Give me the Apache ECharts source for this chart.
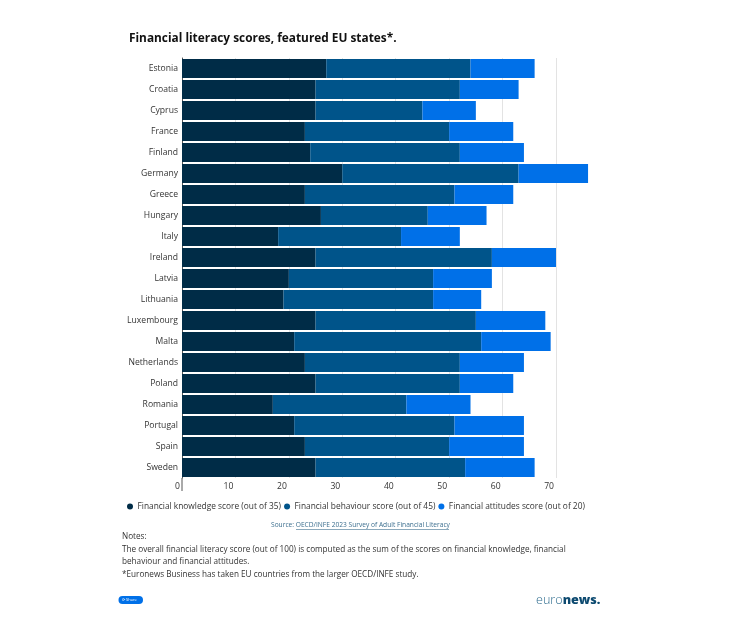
<!DOCTYPE html>
<html><head><meta charset="utf-8">
<style>html,body{margin:0;padding:0;background:#fff}#c{width:750px;height:620px}</style>
<script src="https://cdn.jsdelivr.net/npm/echarts@6/dist/echarts.min.js"></script>
</head><body><div id="c"></div>
<script>
const countries=["Estonia","Croatia","Cyprus","France","Finland","Germany","Greece","Hungary","Italy","Ireland","Latvia","Lithuania","Luxembourg","Malta","Netherlands","Poland","Romania","Portugal","Spain","Sweden"];
const knowledge=[27,25,25,23,24,30,23,26,18,25,20,19,25,21,23,25,17,21,23,25];
const behaviour=[27,27,20,27,28,33,28,20,23,33,27,28,30,35,29,27,25,30,27,28];
const attitudes=[12,11,10,12,12,13,11,11,11,12,11,9,13,13,12,10,12,13,14,13];
const seriesNames=["Financial knowledge score (out of 35)","Financial behaviour score (out of 45)","Financial attitudes score (out of 20)"];
const colors=["#002c47","#00548a","#0070e8"];
const F="'Open Sans'";
const chart=echarts.init(document.getElementById('c'),null,{renderer:'canvas'});
const mk=(i,d)=>({name:seriesNames[i],type:'bar',stack:'a',data:d,barWidth:19,clip:false,itemStyle:{color:colors[i]},animation:false});
const txt=(x,y,s,o={})=>({type:'text',left:x,top:y,style:Object.assign({text:s,font:"8.19px "+F,fill:'#333'},o)});
chart.setOption({
 animation:false,
 title:{text:'Financial literacy scores, featured EU states*.',left:129,top:32.5,padding:0,textStyle:{fontFamily:F,fontSize:11.85,fontWeight:700,color:'#111'}},
 grid:{left:182,top:58,width:374,height:420,containLabel:false},
 xAxis:{type:'value',min:0,max:70,interval:10,
  axisLine:{show:false},axisTick:{show:false},
  splitLine:{show:true,lineStyle:{color:'#e3e3e3',width:1}},
  axisLabel:{align:'right',margin:4,padding:[0,2,0,0],fontFamily:F,fontSize:8.6,color:'#333',showMinLabel:true,showMaxLabel:true}},
 yAxis:{type:'category',inverse:true,data:countries,
  axisLine:{show:true,lineStyle:{color:'#555',width:1}},axisTick:{show:false},
  axisLabel:{margin:4,fontFamily:F,fontSize:8.6,color:'#333'}},
 legend:{show:true,left:127,top:502.5,icon:'circle',itemWidth:6,itemHeight:6,itemGap:3,padding:0,
  textStyle:{fontFamily:F,fontSize:8.35,color:'#333',padding:[0,0,0,-0.5]},data:seriesNames},
 series:[mk(0,knowledge),mk(1,behaviour),mk(2,attitudes)],
 graphic:[
  {type:'line',shape:{x1:182,y1:478,x2:182,y2:491},style:{stroke:'#555',lineWidth:1}},
  txt(271,522,'Source: OECD/INFE 2023 Survey of Adult Financial Literacy',{font:"6.63px "+F,fill:'#3d6f8f'}),
  {type:'line',shape:{x1:296,y1:529.5,x2:449,y2:529.5},style:{stroke:'#3d6f8f',lineWidth:0.6}},
  txt(122,532.5,'Notes:'),
  txt(122,545.5,'The overall financial literacy score (out of 100) is computed as the sum of the scores on financial knowledge, financial'),
  txt(122,558,'behaviour and financial attitudes.'),
  txt(122,570.5,'*Euronews Business has taken EU countries from the larger OECD/INFE study.'),
  {type:'rect',shape:{x:118.5,y:596,width:24.5,height:8,r:4},style:{fill:'#0070e8'}},
  txt(122,598,'⟳ Share',{font:"4px "+F,fill:'#fff'}),
  {type:'text',left:536,top:594,style:{rich:{a:{font:"300 12.6px "+F,fill:'#2e6c8e'},b:{font:"800 12.6px "+F,fill:'#0d4a70'}},text:'{a|euro}{b|news.}'}}
 ]
});
</script></body></html>
